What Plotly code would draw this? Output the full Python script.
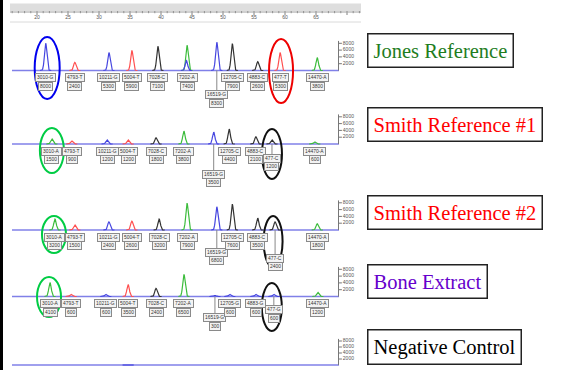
import numpy as np
import plotly.graph_objects as go

W, H = 566, 370

# ---------------- data ----------------
# SNP loci in panel order (allele letter is appended from the dye colour)
loci = ["3010", "4793", "10211", "5004", "7028", "7202", "16519", "12705", "4883", "477", "14470"]

# peak position (size units on the ruler) and height (RFU) for every locus
jones_pos = [21.4, 26.1, 31.6, 35.3, 39.5, 44.2, 49.0, 51.5, 55.6, 59.2, 65.2]
jones_rfu = [8000, 2400, 5300, 5900, 7100, 7400, 8300, 7900, 2600, 5300, 3800]
jones_dye = ["B", "R", "B", "R", "K", "G", "B", "K", "K", "R", "G"]

smith1_pos = [22.4, 25.6, 31.3, 34.7, 39.2, 43.7, 48.5, 51.0, 55.3, 57.9, 64.8]
smith1_rfu = [1500, 900, 1200, 1200, 1800, 3800, 3500, 4400, 2100, 1200, 600]
smith1_dye = ["G", "R", "B", "R", "K", "G", "B", "K", "K", "K", "G"]

smith2_pos = [22.9, 26.1, 31.6, 35.3, 39.7, 44.2, 49.0, 51.5, 55.6, 58.4, 65.2]
smith2_rfu = [3200, 1500, 2400, 2600, 3200, 7900, 6800, 7600, 3500, 2400, 1800]
smith2_dye = ["G", "R", "B", "R", "K", "G", "B", "K", "K", "K", "G"]

bone_pos = [22.1, 25.5, 31.1, 34.7, 39.2, 43.7, 48.7, 51.1, 55.3, 58.2, 65.3]
bone_rfu = [4100, 600, 600, 3500, 2400, 6500, 300, 600, 600, 600, 1200]
bone_dye = ["G", "R", "B", "R", "K", "G", "B", "B", "B", "B", "G"]

# unlabelled minor peaks
jones_extra_pos = [44.1]
jones_extra_rfu = [2900]
jones_extra_dye = ["B"]
neg_extra_pos = [34.7]
neg_extra_rfu = [200]
neg_extra_dye = ["B"]

scale_ticks = [2000, 4000, 6000, 8000]
ruler_labels = [20, 25, 30, 35, 40, 45, 50, 55, 60, 65]

# ---------------- styling / layout ----------------
DYE_COLOR = {"B": "#4646e0", "R": "#ff5050", "K": "#333333", "G": "#3cbc3c"}
ALLELE = {"B": "G", "G": "A", "K": "C", "R": "T"}
BASE_COLOR = "#8080e8"

PX_PER_UNIT = 6.2
X0 = 20 - 37 / PX_PER_UNIT
X1 = X0 + W / PX_PER_UNIT


def px_to_x(px):
    return X0 + px / PX_PER_UNIT


TRACE_START, TRACE_END = px_to_x(12), px_to_x(339)
SCALE_X = px_to_x(338.5)

panels = [
    dict(title="Jones Reference", tcolor="#1e7d1e", base=70.5, scale=3.4,
         pos=jones_pos, rfu=jones_rfu, dye=jones_dye,
         xpos=jones_extra_pos, xrfu=jones_extra_rfu, xdye=jones_extra_dye,
         drops={6: 24}, box=(35, 66),
         rings=[(0, "#0000ee", 12.5, 33.5, 28.5, 1.5), (9, "#ee0000", 12, 31.5, 32.5, 1)]),
    dict(title="Smith Reference #1", tcolor="#ff0000", base=144, scale=3.4,
         pos=smith1_pos, rfu=smith1_rfu, dye=smith1_dye,
         xpos=[], xrfu=[], xdye=[],
         drops={6: 30, 9: 14}, box=(109, 140),
         rings=[(0, "#00cc44", 12, 16, 29, 0), (9, "#111111", 10, 15, 35, 0)]),
    dict(title="Smith Reference #2", tcolor="#ff0000", base=230, scale=3.4,
         pos=smith2_pos, rfu=smith2_rfu, dye=smith2_dye,
         xpos=[], xrfu=[], xdye=[],
         drops={6: 22, 9: 28}, box=(197, 228),
         rings=[(0, "#00cc44", 12, 14, 23, -1), (9, "#111111", 9.5, 14, 37, -2)]),
    dict(title="Bone Extract", tcolor="#6600cc", base=296.5, scale=3.4,
         pos=bone_pos, rfu=bone_rfu, dye=bone_dye,
         xpos=[], xrfu=[], xdye=[],
         drops={6: 21, 9: 13}, box=(266, 297),
         rings=[(0, "#00cc44", 12, 19.5, 20.5, -1), (9, "#111111", 10, 13.5, 34.5, -2)]),
    dict(title="Negative Control", tcolor="#000000", base=365, scale=3.0,
         pos=[], rfu=[], dye=[],
         xpos=neg_extra_pos, xrfu=neg_extra_rfu, xdye=neg_extra_dye,
         drops={}, box=(331, 362), rings=[]),
]

fig = go.Figure()
shapes, annotations = [], []
layout_axes = {}

SIGMA = 0.2


def add_peaks(yname, pos, rfu, dye):
    for d in DYE_COLOR:
        xs, ys = [], []
        for c, h, dd in zip(pos, rfu, dye):
            if dd != d:
                continue
            gx = np.linspace(c - 0.9, c + 0.9, 41)
            gy = h * np.exp(-0.5 * ((gx - c) / SIGMA) ** 2)
            xs += list(gx) + [None]
            ys += list(gy) + [None]
        if xs:
            fig.add_trace(go.Scatter(x=xs, y=ys, mode="lines", xaxis="x", yaxis=yname,
                                     line=dict(color=DYE_COLOR[d], width=1.2),
                                     hoverinfo="skip", showlegend=False))


for i, p in enumerate(panels):
    n = i + 1
    yname = "y" if n == 1 else f"y{n}"
    lname = "yaxis" if n == 1 else f"yaxis{n}"
    b, s = p["base"], p["scale"]
    k = 1000.0 / s  # RFU per pixel
    top_px, bot_px = max(b - 42, 0), min(b + 40, H)
    layout_axes[lname] = dict(domain=[1 - bot_px / H, 1 - top_px / H],
                              range=[-(bot_px - b) * k, (b - top_px) * k],
                              visible=False, fixedrange=True)

    # baseline
    fig.add_trace(go.Scatter(x=[TRACE_START, TRACE_END], y=[0, 0], mode="lines",
                             xaxis="x", yaxis=yname,
                             line=dict(color=BASE_COLOR, width=1.6),
                             hoverinfo="skip", showlegend=False))

    # RFU scale on the right
    sx, sy = [SCALE_X, SCALE_X, None], [0, 8700, None]
    for t in scale_ticks:
        sx += [SCALE_X, SCALE_X + 0.55, None]
        sy += [t, t, None]
    fig.add_trace(go.Scatter(x=sx, y=sy, mode="lines", xaxis="x", yaxis=yname,
                             line=dict(color="#777777", width=1),
                             hoverinfo="skip", showlegend=False))
    fig.add_trace(go.Scatter(x=[SCALE_X + 0.7] * len(scale_ticks), y=scale_ticks,
                             mode="text", text=[str(t) for t in scale_ticks],
                             textposition="middle right", xaxis="x", yaxis=yname,
                             textfont=dict(size=5, color="#555555", family="Liberation Sans"),
                             hoverinfo="skip", showlegend=False, cliponaxis=False))

    # connector lines for dropped labels
    cx, cy = [], []
    for li, drop in p["drops"].items():
        c = p["pos"][li]
        cx += [c, c, None]
        cy += [0, -(drop - 4) * k, None]
    if cx:
        fig.add_trace(go.Scatter(x=cx, y=cy, mode="lines", xaxis="x", yaxis=yname,
                                 line=dict(color="#888888", width=1),
                                 hoverinfo="skip", showlegend=False))

    add_peaks(yname, p["pos"], p["rfu"], p["dye"])
    add_peaks(yname, p["xpos"], p["xrfu"], p["xdye"])

    # allele call boxes (name + height) under every peak
    for li, (c, h, d) in enumerate(zip(p["pos"], p["rfu"], p["dye"])):
        drop = p["drops"].get(li, 7)
        for txt, dy in ((f"{loci[li]}-{ALLELE[d]}", drop), (str(h), drop + 8.8)):
            annotations.append(dict(
                x=c, y=-dy * k, xref="x", yref=yname, text=txt, showarrow=False,
                font=dict(size=4.9, color="#333333", family="Liberation Sans"),
                bgcolor="#f3f3f3", bordercolor="#8a8a8a", borderwidth=1, borderpad=1,
                xanchor="center", yanchor="middle"))

    # highlighted calls
    for li, col, hw, up, down, shift in p["rings"]:
        c = p["pos"][li] + shift / PX_PER_UNIT
        shapes.append(dict(type="circle", xref="x", yref=yname,
                           x0=c - hw / PX_PER_UNIT, x1=c + hw / PX_PER_UNIT,
                           y0=-down * k, y1=up * k,
                           line=dict(color=col, width=2), layer="above"))

    # sample name box
    y0b, y1b = p["box"]
    annotations.append(dict(
        x=367 / W, y=1 - (y0b + y1b) / 2 / H, xref="paper", yref="paper",
        xanchor="left", yanchor="middle", showarrow=False, text=p["title"],
        font=dict(family="Liberation Serif", size=20.5, color=p["tcolor"]),
        bgcolor="white", bordercolor="#222222", borderwidth=1.5, borderpad=5))

# ---------------- ruler (size scale) ----------------
layout_axes["yaxis6"] = dict(domain=[1 - 26 / H, 1], range=[26, 0], visible=False,
                             fixedrange=True)
R0, R1 = px_to_x(10), px_to_x(361)
shapes.append(dict(type="rect", xref="x", yref="y6", x0=R0, x1=R1, y0=3.5, y1=11,
                   fillcolor="#dedede", line=dict(width=0), layer="below"))
shapes.append(dict(type="line", xref="x", yref="y6", x0=R0, x1=R1, y0=22, y1=22,
                   line=dict(color="#dadada", width=1)))
tx, ty = [], []
for u in range(16, 73):
    tx += [u, u, None]
    ty += [11, 15 if u % 5 == 0 else 13.2, None]
fig.add_trace(go.Scatter(x=tx, y=ty, mode="lines", xaxis="x", yaxis="y6",
                         line=dict(color="#808080", width=1),
                         hoverinfo="skip", showlegend=False))
fig.add_trace(go.Scatter(x=[R0, R1], y=[12, 12], mode="lines", xaxis="x", yaxis="y6",
                         line=dict(color="#a0a0a0", width=1),
                         hoverinfo="skip", showlegend=False))
fig.add_trace(go.Scatter(x=ruler_labels, y=[17.5] * len(ruler_labels), mode="text",
                         text=[str(v) for v in ruler_labels], xaxis="x", yaxis="y6",
                         textfont=dict(size=5, color="#555555", family="Liberation Sans"),
                         hoverinfo="skip", showlegend=False, cliponaxis=False))

# left frame bar
shapes.append(dict(type="rect", xref="paper", yref="paper", x0=0, x1=3 / W, y0=0, y1=1,
                   fillcolor="#000000", line=dict(width=0)))

fig.update_layout(
    width=W, height=H, margin=dict(l=0, r=0, t=0, b=0),
    paper_bgcolor="white", plot_bgcolor="rgba(0,0,0,0)",
    xaxis=dict(domain=[0, 1], range=[X0, X1], visible=False, fixedrange=True),
    shapes=shapes, annotations=annotations, showlegend=False,
    **layout_axes,
)

fig.write_html("out.html")
